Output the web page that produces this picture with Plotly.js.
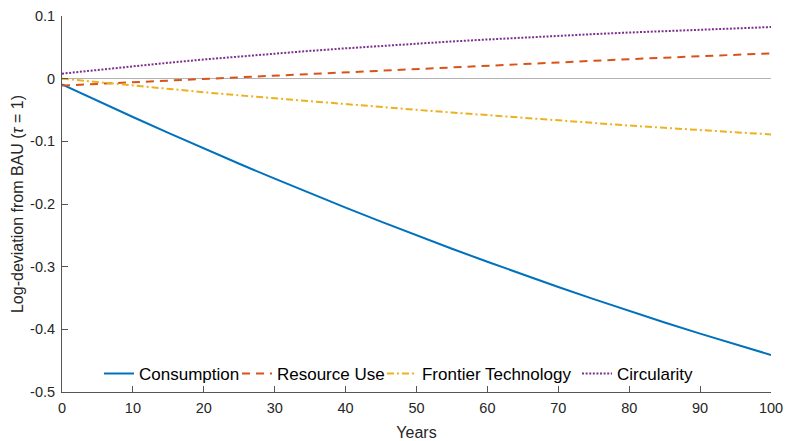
<!DOCTYPE html>
<html>
<head>
<meta charset="utf-8">
<script src="https://cdn.plot.ly/plotly-3.0.1.min.js"></script>
<style>html,body{margin:0;padding:0;background:#fff;}#chart{width:786px;height:441px;}</style>
</head>
<body>
<div id="chart"></div>
<script>
const years = [0,5,10,15,20,25,30,35,40,45,50,55,60,65,70,75,80,85,90,95,100];
const consumption = [-0.009,-0.0354,-0.0612,-0.0866,-0.1114,-0.1358,-0.1596,-0.183,-0.2058,-0.2282,-0.250,-0.2714,-0.2922,-0.3126,-0.3324,-0.3518,-0.3706,-0.389,-0.4068,-0.4242,-0.441];
const resourceUse = [-0.011,-0.0083,-0.0057,-0.0031,-0.0005,0.0021,0.0049,0.0077,0.0104,0.0132,0.0159,0.0186,0.0212,0.0238,0.0263,0.0287,0.0311,0.0335,0.0359,0.0382,0.0404];
const frontierTech = [0,-0.0056,-0.011,-0.0164,-0.0216,-0.0267,-0.0315,-0.0362,-0.0408,-0.0453,-0.0497,-0.054,-0.0584,-0.0627,-0.0669,-0.071,-0.0748,-0.0785,-0.0821,-0.0856,-0.089];
const circularity = [0.008,0.0142,0.0200,0.0254,0.0306,0.0355,0.0401,0.0444,0.0484,0.0523,0.0559,0.0594,0.0625,0.0656,0.0684,0.0711,0.0736,0.0760,0.0783,0.0804,0.0824];
const seriesNames = ['Consumption','Resource Use','Frontier Technology','Circularity'];
const xTicks = [0,10,20,30,40,50,60,70,80,90,100];
const yTicks = [-0.5,-0.4,-0.3,-0.2,-0.1,0,0.1];
const yTickText = ['-0.5','-0.4','-0.3','-0.2','-0.1','0','0.1'];

const font = 'Liberation Sans, Arial, sans-serif';
const traces = [
  {x: years, y: consumption, name: seriesNames[0], legend: 'legend', mode: 'lines', line: {color: '#0072BD', width: 2}},
  {x: years, y: resourceUse, name: seriesNames[1], legend: 'legend2', mode: 'lines', line: {color: '#D95319', width: 2, dash: '8px,6px'}},
  {x: years, y: frontierTech, name: seriesNames[2], legend: 'legend3', mode: 'lines', line: {color: '#EDB120', width: 2, dash: '7px,3px,2px,3px'}},
  {x: years, y: circularity, name: seriesNames[3], legend: 'legend4', mode: 'lines', line: {color: '#7E2F8E', width: 2, dash: '2px,1.6px'}}
];
function leg(x) {
  return {orientation: 'h', x: x, xanchor: 'left', y: 0.048, yanchor: 'middle',
          font: {size: 17, family: font, color: '#000'}, bgcolor: 'rgba(0,0,0,0)', itemwidth: 30};
}
const layout = {
  width: 786, height: 441,
  margin: {l: 62, r: 15, t: 16, b: 49},
  paper_bgcolor: '#fff', plot_bgcolor: '#fff',
  font: {family: font, color: '#262626'},
  showlegend: true,
  legend: leg(0.0522), legend2: leg(0.2468), legend3: leg(0.4513), legend4: leg(0.7264),
  xaxis: {range: [0, 100], tickvals: xTicks, ticks: 'inside', ticklen: 6, tickcolor: '#555',
          showline: true, linecolor: '#555', linewidth: 1, showgrid: false, zeroline: false,
          ticklabelstandoff: 3,
          tickfont: {size: 14.5, family: font, color: '#262626'},
          title: {text: 'Years', font: {size: 16, family: font, color: '#262626'}, standoff: 11}},
  yaxis: {range: [-0.5, 0.1], tickvals: yTicks, ticktext: yTickText, ticks: 'inside', ticklen: 6, tickcolor: '#555',
          showline: true, linecolor: '#555', linewidth: 1, showgrid: false,
          zeroline: true, zerolinecolor: '#b3b3b3', zerolinewidth: 1,
          ticklabelstandoff: 3,
          tickfont: {size: 14.5, family: font, color: '#262626'},
          title: {text: 'Log-deviation from BAU (<i>τ</i> = 1)', font: {size: 16, family: font, color: '#262626'}, standoff: 2}}
};
Plotly.newPlot('chart', traces, layout, {displayModeBar: false, staticPlot: true});
</script>
</body>
</html>
